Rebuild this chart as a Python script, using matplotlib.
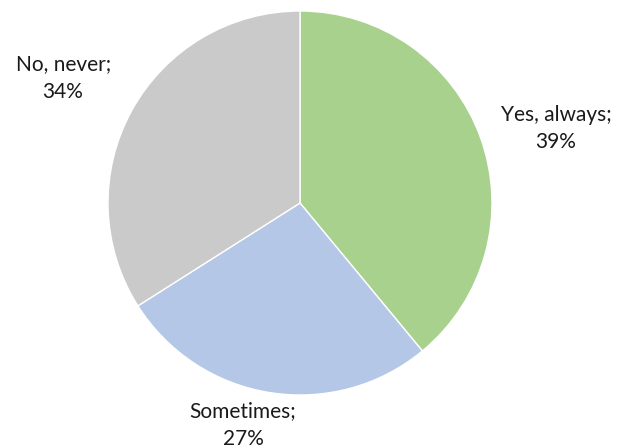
import matplotlib.pyplot as plt

# Survey answers
labels = ["Yes, always", "Sometimes", "No, never"]
shares = [39, 27, 34]
colors = ["#A9D18E", "#B4C7E7", "#CACACA"]

# label anchor points (pie radius = 1)
label_pos = [(1.333, 0.39), (-0.297, -1.156), (-1.234, 0.651)]

fig = plt.figure(figsize=(6.17, 4.48), dpi=100)
ax = fig.add_axes([108 / 617, (448 - 395) / 448, 384 / 617, 384 / 448])

ax.pie(shares, colors=colors, startangle=90, counterclock=False, radius=1,
       wedgeprops=dict(edgecolor="white", linewidth=1))
ax.set_xlim(-1, 1)
ax.set_ylim(-1, 1)
ax.set_aspect("equal")
ax.axis("off")

for name, val, (x, y) in zip(labels, shares, label_pos):
    ax.text(x, y, f"{name};\n{val}%", ha="center", va="center",
            fontsize=15, family=["Lato", "DejaVu Sans"], color="#1a1a1a",
            linespacing=1.45, clip_on=False)

plt.savefig("out.png", dpi=100)
